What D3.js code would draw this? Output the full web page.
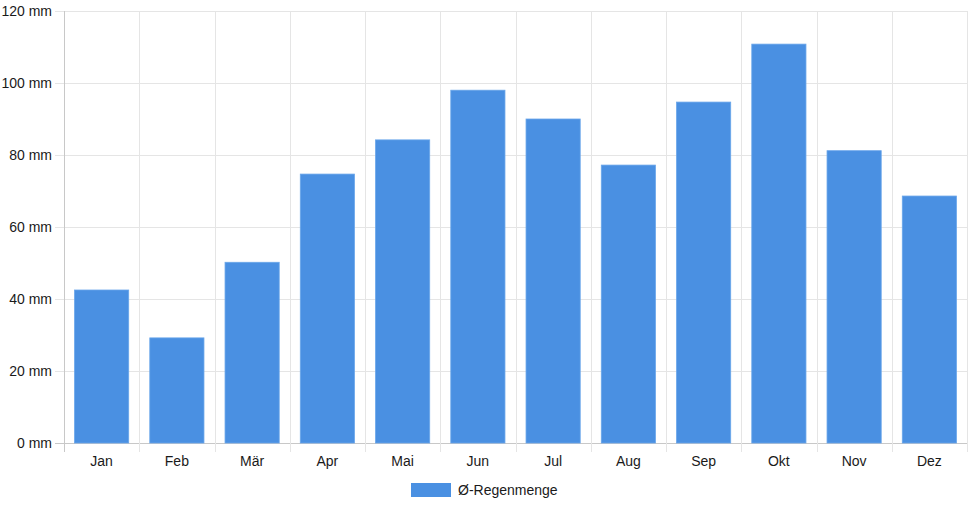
<!DOCTYPE html>
<html>
<head>
<meta charset="utf-8">
<script src="https://cdn.jsdelivr.net/npm/d3@7"></script>
<style>
  body { margin: 0; background: #fff; }
  text { font-family: "Liberation Sans", Arial, Helvetica, sans-serif; }
</style>
</head>
<body>
<div id="chart"></div>
<script>
// Monatsmittel Niederschlag
const months = ["Jan", "Feb", "Mär", "Apr", "Mai", "Jun", "Jul", "Aug", "Sep", "Okt", "Nov", "Dez"];
const rain = [42.5, 29.2, 50.2, 74.7, 84.2, 98.0, 90.0, 77.2, 94.7, 110.8, 81.2, 68.6];
const yTicks = [0, 20, 40, 60, 80, 100, 120];
const seriesName = "Ø-Regenmenge";

function drawChart() {
    const W = 968, H = 508;
    const margin = {top: 11, right: 1, bottom: 65, left: 64};
    const width = W - margin.left - margin.right;
    const height = H - margin.top - margin.bottom;

    const svg = d3.select("#chart")
        .append("svg")
        .attr("width", W)
        .attr("height", H);

    const g = svg.append("g")
        .attr("transform", `translate(${margin.left},${margin.top})`);

    const x = d3.scaleBand()
        .domain(months)
        .range([0, width]);

    const y = d3.scaleLinear()
        .domain([0, 120])
        .range([height, 0]);

    // horizontal grid + tick marks
    g.append("g")
        .selectAll("line")
        .data(yTicks)
        .enter()
        .append("line")
        .attr("x1", -9)
        .attr("x2", width)
        .attr("y1", d => y(d) + 0.5)
        .attr("y2", d => y(d) + 0.5)
        .attr("stroke", d => d === 0 ? "#c8c8c8" : "#e5e5e5");

    // vertical grid at band edges
    const edges = months.map(m => x(m)).concat([width]);
    g.append("g")
        .selectAll("line")
        .data(edges)
        .enter()
        .append("line")
        .attr("x1", d => Math.round(d) + 0.5)
        .attr("x2", d => Math.round(d) + 0.5)
        .attr("y1", 0)
        .attr("y2", height + 9)
        .attr("stroke", (d, i) => i === 0 ? "#c8c8c8" : "#e5e5e5");

    // y labels
    g.append("g")
        .selectAll("text")
        .data(yTicks)
        .enter()
        .append("text")
        .attr("x", -12)
        .attr("y", d => y(d))
        .attr("dy", "0.35em")
        .attr("text-anchor", "end")
        .attr("font-size", 14)
        .attr("fill", "#1a1a1a")
        .text(d => `${d} mm`);

    // x labels
    g.append("g")
        .selectAll("text")
        .data(months)
        .enter()
        .append("text")
        .attr("x", d => x(d) + x.bandwidth() / 2)
        .attr("y", height + 18)
        .attr("dy", "0.35em")
        .attr("text-anchor", "middle")
        .attr("font-size", 14)
        .attr("fill", "#1a1a1a")
        .text(d => d);

    // bars (80% category, 90% bar)
    const barW = x.bandwidth() * 0.72;
    g.append("g")
        .selectAll("rect")
        .data(months.map((m, i) => ({m, v: rain[i]})))
        .enter()
        .append("rect")
        .attr("x", d => x(d.m) + (x.bandwidth() - barW) / 2)
        .attr("y", d => y(d.v))
        .attr("width", barW)
        .attr("height", d => height - y(d.v))
        .attr("fill", "#4a90e2")
        .attr("stroke", "#6aa6ea")
        .attr("stroke-width", 0.8);

    // legend
    const legend = svg.append("g")
        .attr("transform", `translate(411,483)`);
    legend.append("rect")
        .attr("width", 40)
        .attr("height", 14)
        .attr("fill", "#4a90e2");
    legend.append("text")
        .attr("x", 47)
        .attr("y", 7)
        .attr("dy", "0.35em")
        .attr("font-size", 14)
        .attr("fill", "#1a1a1a")
        .text(seriesName);
}

drawChart();
</script>
</body>
</html>
